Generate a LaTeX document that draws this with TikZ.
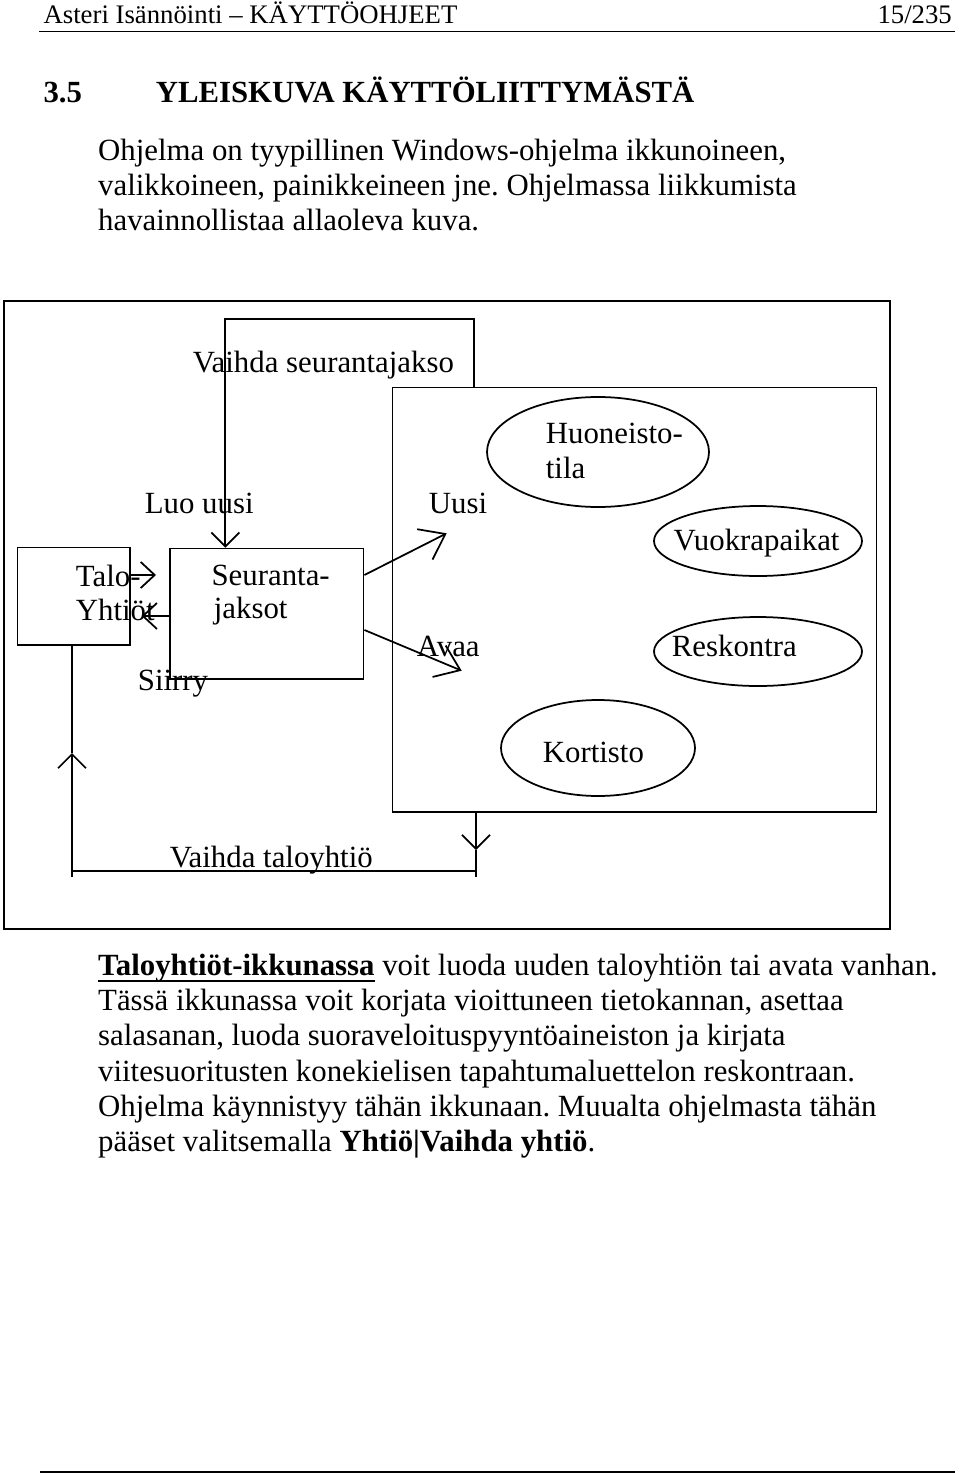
\documentclass[tikz,border=0pt]{standalone}
\usepackage{fontspec}
\setmainfont{Liberation Serif}
\usetikzlibrary{arrows.meta,shapes.geometric}
\newcommand\px{0.4pt}
\newcommand\bodyfs{\fontsize{12.33pt}{14pt}\selectfont}
\newcommand\headfs{\fontsize{10.7pt}{13pt}\selectfont}
\newcommand\titlefs{\fontsize{12.3pt}{14pt}\selectfont\bfseries}
\newsavebox\ulbox
\newcommand\myul[1]{\sbox\ulbox{#1}\rlap{\vrule height -1.8pt depth 2.4pt width \wd\ulbox}\usebox\ulbox}
\begin{document}
\frenchspacing
\begin{tikzpicture}[x=0.4pt,y=-0.4pt,line width=0.7pt,
  lbl/.style={anchor=base west,inner sep=0pt,font=\bodyfs},
  boxnode/.style={draw,rectangle,inner sep=0pt,anchor=north west},
  oval/.style={draw,ellipse,inner sep=0pt},
  arrS/.style={-{Straight Barb[length=5.6pt,width=10.4pt]}},
  arrV/.style={-{Straight Barb[length=5.6pt,width=11.2pt]}},
  arrD/.style={-{Straight Barb[length=9.2pt,width=13.6pt]}}]
\useasboundingbox (0,0) rectangle (960,1473);
% header
\node[anchor=base west,inner sep=0pt,font=\headfs] (hdr) at (42.7,23.3) {Asteri Isännöinti – KÄYTTÖOHJEET};
\node[anchor=base east,inner sep=0pt,font=\headfs] (pg) at (952.7,23.3) {15/235};
\draw[line width=0.6pt] (39,31.7) -- (955,31.7);
% title
\node[anchor=base west,inner sep=0pt,font=\titlefs] (num) at (42.7,102.7) {3.5};
\node[anchor=base west,inner sep=0pt,font=\titlefs] (ttl) at (155,102.7) {YLEISKUVA KÄYTTÖLIITTYMÄSTÄ};
% paragraph 1
\node[lbl] (p1a) at (97.3,160.2) {Ohjelma on tyypillinen Windows-ohjelma ikkunoineen,};
\node[lbl] (p1b) at (97.3,195.4) {valikkoineen, painikkeineen jne. Ohjelmassa liikkumista};
\node[lbl] (p1c) at (97.3,230.6) {havainnollistaa allaoleva kuva.};
% diagram boxes
\node[boxnode,minimum width=886*\px,minimum height=628*\px] (outer) at (3,300) {};
\node[boxnode,minimum width=484*\px,minimum height=424.5*\px] (win) at (391.5,386.5) {};
\node[boxnode,minimum width=112.6*\px,minimum height=97.3*\px] (talo) at (16.7,546.7) {};
\node[boxnode,minimum width=193.4*\px,minimum height=130.6*\px] (seur) at (169.3,547.7) {};
\node[oval,minimum width=222*\px,minimum height=110*\px] (huon) at (598,452) {};
\node[oval,minimum width=208*\px,minimum height=70*\px] (vuok) at (758,541) {};
\node[oval,minimum width=208*\px,minimum height=69*\px] (resk) at (758,651.5) {};
\node[oval,minimum width=194*\px,minimum height=96*\px] (kort) at (598,748) {};
% diagram labels
\node[lbl] (vsj) at (192,372) {Vaihda seurantajakso};
\node[lbl] (luo) at (144,513) {Luo uusi};
\node[lbl] (uusi) at (428,513) {Uusi};
\node[lbl] (avaa) at (416,656) {Avaa};
\node[lbl] (siirry) at (137,690) {Siirry};
\node[lbl] (talo1) at (75,586) {Talo-};
\node[lbl] (talo2) at (75,620) {Yhtiöt};
\node[lbl] (seur1) at (210.7,585) {Seuranta-};
\node[lbl] (seur2) at (213,618) {jaksot};
\node[lbl] (huon1) at (545,443) {Huoneisto-};
\node[lbl] (huon2) at (545,478) {tila};
\node[lbl] (vuokt) at (672.7,550) {Vuokrapaikat};
\node[lbl] (reskt) at (671,656) {Reskontra};
\node[lbl] (kortt) at (542,762) {Kortisto};
\node[lbl] (vtal) at (169,867) {Vaihda taloyhtiö};
% connectors
\coordinate (loopL) at (225.3,319.3);
\coordinate (loopR) at (474,319.3);
\draw[arrV] (loopR |- win.north) -- (loopR) -- (loopL) -- (loopL |- seur.north);
\coordinate (aT) at (156,575);
\draw[arrS] (talo.east |- aT) -- (aT);
\coordinate (aY) at (141.7,616);
\draw[arrS] (seur.west |- aY) -- (aY);
\coordinate (uy) at (0,575);
\coordinate (aU) at (446.7,533.3);
\draw[arrD] (seur.east |- uy) -- (aU);
\coordinate (ay) at (0,630);
\coordinate (aA) at (461.7,670.7);
\draw[arrD] (seur.east |- ay) -- (aA);
\coordinate (dR) at (476,877);
\coordinate (dRt) at (476,850);
\draw[arrV] (dR |- win.south) -- (dRt);
\draw (dRt) -- (dR);
\coordinate (hL) at (72,871);
\coordinate (hR) at (476,871);
\draw (hL) -- (hR);
\coordinate (uL) at (72,877);
\coordinate (uLt) at (72,753);
\draw[arrV] (uL) -- (uLt);
\draw (uLt) -- (uLt |- talo.south);
% paragraph 2
\node[lbl] (p2a) at (97.3,975.5) {\myul{\textbf{Taloyhtiöt-ikkunassa}} voit luoda uuden taloyhtiön tai avata vanhan.};
\node[lbl] (p2b) at (97.3,1010.7) {Tässä ikkunassa voit korjata vioittuneen tietokannan, asettaa};
\node[lbl] (p2c) at (97.3,1045.9) {salasanan, luoda suoraveloituspyyntöaineiston ja kirjata};
\node[lbl] (p2d) at (97.3,1081.1) {viitesuoritusten konekielisen tapahtumaluettelon reskontraan.};
\node[lbl] (p2e) at (97.3,1116.3) {Ohjelma käynnistyy tähän ikkunaan. Muualta ohjelmasta tähän};
\node[lbl] (p2f) at (97.3,1151.5) {pääset valitsemalla \textbf{Yhtiö|Vaihda yhtiö}.};
% footer rule
\draw[line width=0.8pt] (40,1471.5) -- (955,1471.5);
\end{tikzpicture}
\end{document}
